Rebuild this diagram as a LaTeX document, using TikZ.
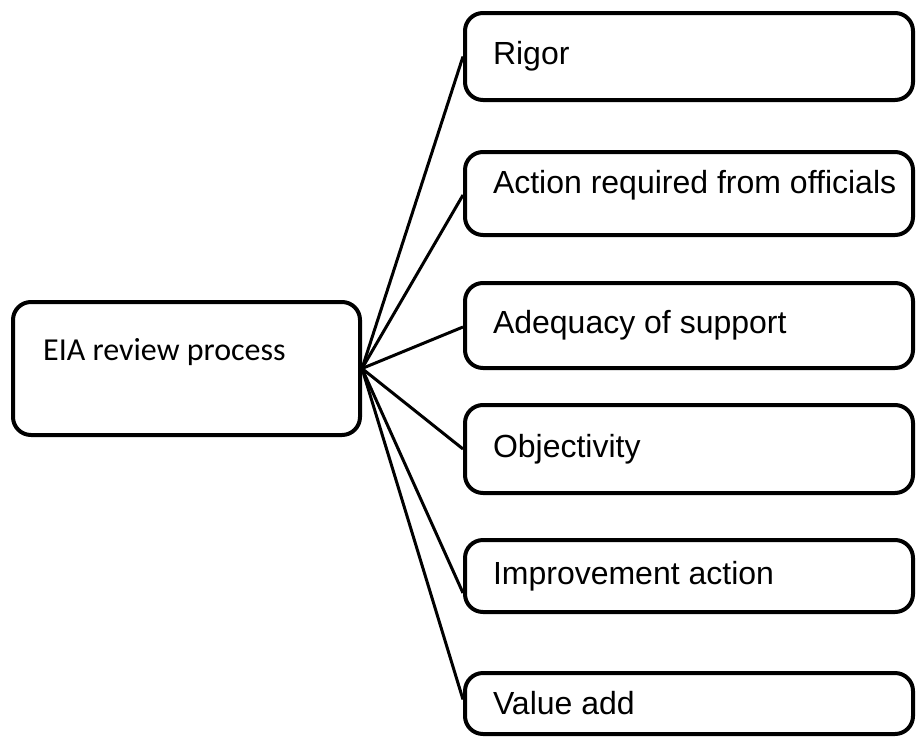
\documentclass[tikz,border=0pt]{standalone}
\usepackage{fontspec}
\setmainfont{Liberation Sans}
\newfontfamily\calibri{Carlito}
\usetikzlibrary{positioning,calc}

\begin{document}
\begin{tikzpicture}[x=1pt,y=-1pt,
 box/.style={draw,line width=4pt,rounded corners=18pt,minimum width=448pt,
  text width=420pt,inner xsep=14pt,align=flush left,
  execute at begin node={\hspace*{14pt}},font=\fontsize{32}{38}\selectfont},
 link/.style={line width=3pt}]
 \useasboundingbox (0,0) rectangle (917,736);
 \clip (0,0) rectangle (917,736);
 % review process on the left
 \node[draw,line width=4pt,rounded corners=18pt,minimum width=347pt,minimum height=133pt] (eia) at (186.5,368.5) {};
 \node[anchor=base west,inner sep=0pt,font=\calibri\fontsize{32}{38}\selectfont] (eialabel) at (43,360) {EIA review process};
 % criteria on the right
 \node[box,minimum height=87pt] (rigor) at (689,56.5) {Rigor};
 \node[box,minimum height=83pt,text depth=24pt] (action) at (689,193.5) {Action required from officials};
 \node[box,minimum height=85pt] (adequacy) at (689,325.5) {Adequacy of support};
 \node[box,minimum height=88pt] (objectivity) at (689,449) {Objectivity};
 \node[box,minimum height=72pt] (improvement) at (689,576) {Improvement action};
 \node[box,minimum height=61pt] (valueadd) at (689,703.5) {Value add};
 \foreach \n/\dy in {rigor/0,action/-1.5,adequacy/-1.5,objectivity/0,improvement/-17,valueadd/4}
  \draw[link] (eia.east) -- ([yshift=\dy pt]\n.west);
\end{tikzpicture}
\end{document}
